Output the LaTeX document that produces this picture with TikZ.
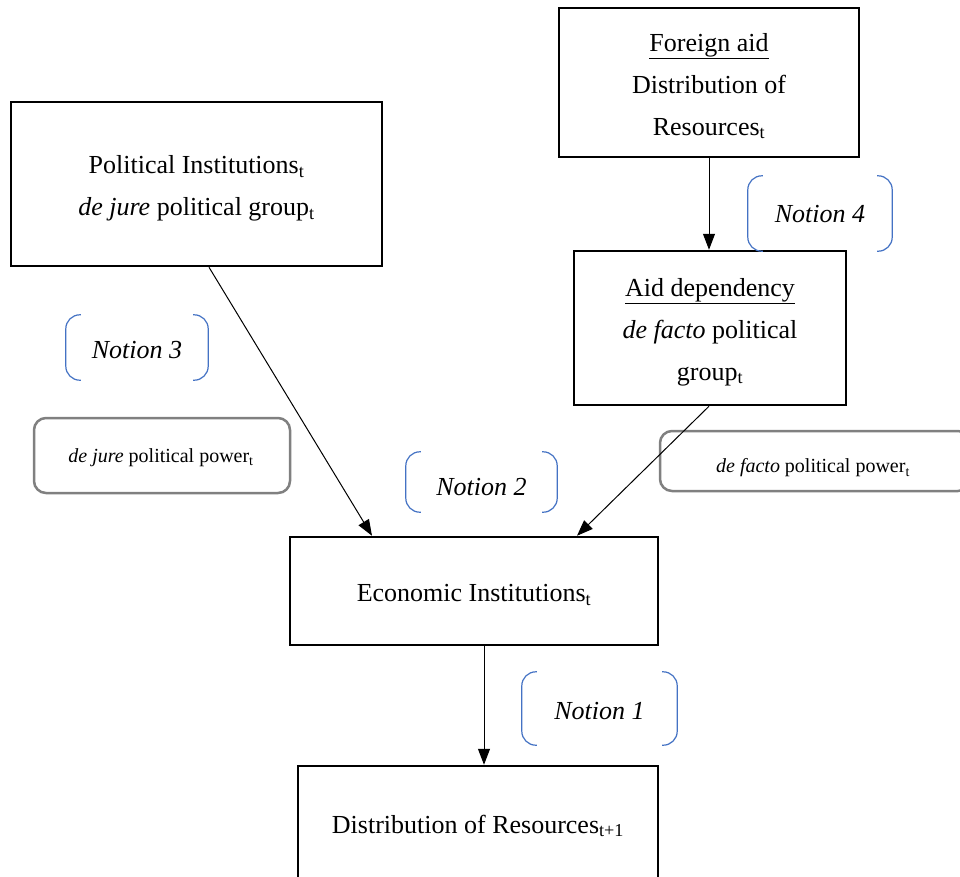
\documentclass[tikz,border=0pt]{standalone}
\usepackage{fontspec}
\setmainfont{Liberation Serif}
\usetikzlibrary{arrows.meta,calc}
\definecolor{notionblue}{HTML}{4472C4}
\definecolor{pgray}{HTML}{808080}
\begin{document}
\begin{tikzpicture}[x=1pt,y=-1pt,
  mainbox/.style={draw=black,line width=2.5pt,inner sep=0pt},
  maintext/.style={inner sep=0pt,align=center,font=\fontsize{26}{42}\selectfont},
  powerbox/.style={draw=pgray,line width=2.5pt,rounded corners=12pt,inner sep=0pt},
  powertext/.style={inner sep=0pt,font=\fontsize{20}{24}\selectfont},
  notion/.style={inner sep=0pt},
  notiontext/.style={inner sep=0pt,font=\fontsize{26}{30}\selectfont\itshape},
  bracket/.style={draw=notionblue,line width=1.2pt,rounded corners=14pt},
  conn/.style={line width=1pt,-{Triangle[length=16pt,width=12pt]}}]
\useasboundingbox (0,0) rectangle (960,876);
\clip (0,0) rectangle (960,876);
\fill[white] (0,0) rectangle (960,876);

% main boxes
\node[mainbox,minimum width=300pt,minimum height=149pt] (fa) at (709,82.5) {};
\node[maintext] (fat) at ($(fa.center)+(0,3.5)$)
  {\underline{Foreign aid}\\Distribution of\\Resources\textsubscript{t}};
\node[mainbox,minimum width=371pt,minimum height=164pt] (pi) at (196.5,184) {};
\node[maintext] (pit) at ($(pi.center)+(0,4.5)$)
  {Political Institutions\textsubscript{t}\\\textit{de jure} political group\textsubscript{t}};
\node[mainbox,minimum width=272pt,minimum height=154pt] (ad) at (710,328) {};
\node[maintext] (adt) at ($(ad.center)+(0,4)$)
  {\underline{Aid dependency}\\\textit{de facto} political\\group\textsubscript{t}};
\node[mainbox,minimum width=368pt,minimum height=108pt] (ei) at (474,591) {};
\node[maintext] (eit) at ($(ei.center)+(0,4)$) {Economic Institutions\textsubscript{t}};
\node[mainbox,minimum width=360pt,minimum height=116pt] (dr) at (478,824) {};
\node[maintext] (drt) at ($(dr.center)+(0,2)$) {Distribution of Resources\textsubscript{t+1}};

% power boxes
\node[powerbox,minimum width=256pt,minimum height=75pt] (dj) at (162,455.5) {};
\node[powertext] (djt) at ($(dj.center)+(-1,2)$) {\textit{de jure} political power\textsubscript{t}};
\node[powerbox,minimum width=310pt,minimum height=60pt] (df) at (815,461) {};
\node[powertext] (dft) at ($(df.center)+(-2,7)$) {\textit{de facto} political power\textsubscript{t}};

% notions
\foreach \nm/\cx/\cy/\w/\h/\t/\dy in {n3/137/347.5/142/65/3/3, n4/820/213.5/144/75/4/1, n2/481.5/482/151/60/2/5, n1/599.5/708.5/155/73/1/3}{
  \node[notion,minimum width=\w pt,minimum height=\h pt] (\nm) at (\cx,\cy) {};
  \node[notiontext] (\nm t) at ($(\nm.center)+(0,\dy)$) {Notion \t};
  \draw[bracket] ([xshift=15pt]\nm.north west) -- (\nm.north west) -- (\nm.south west) -- ([xshift=15pt]\nm.south west);
  \draw[bracket] ([xshift=-15pt]\nm.north east) -- (\nm.north east) -- (\nm.south east) -- ([xshift=-15pt]\nm.south east);
}

% connectors
\coordinate (piout) at ($(pi.south)+(12.5,0)$);
\coordinate (eiinl) at ($(ei.north)+(-102,0)$);
\coordinate (adout) at ($(ad.south)+(-1,0)$);
\coordinate (eiinr) at ($(ei.north)+(103,0)$);
\coordinate (eiout) at ($(ei.south)+(10,0)$);
\draw[conn] (fa.south) -- (fa.south |- ad.north);
\draw[conn] (piout) -- (eiinl);
\draw[conn] (adout) -- (eiinr);
\draw[conn] (eiout) -- (eiout |- dr.north);
\end{tikzpicture}
\end{document}
